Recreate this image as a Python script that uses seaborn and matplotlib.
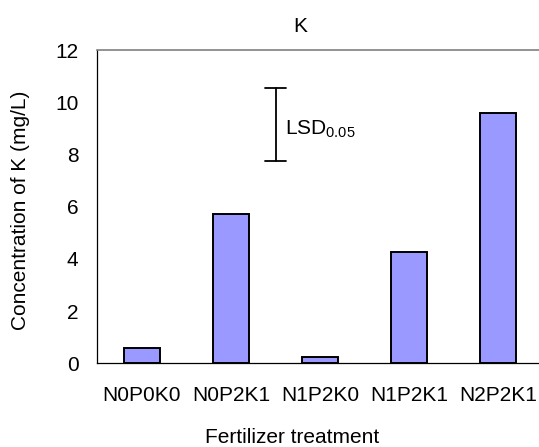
import numpy as np
import pandas as pd
import matplotlib
matplotlib.use("Agg")
import matplotlib.pyplot as plt
import seaborn as sns

# Data
categories = ["N0P0K0", "N0P2K1", "N1P2K0", "N1P2K1", "N2P2K1"]
values = [0.60, 5.72, 0.26, 4.25, 9.58]
lsd_low = 7.76
lsd_high = 10.54
lsd_x = 1.5
yticks = [0, 2, 4, 6, 8, 10, 12]

sns.set_theme(style="white")
plt.rcParams["font.family"] = ["Liberation Sans", "DejaVu Sans"]
plt.rcParams["mathtext.fontset"] = "custom"
plt.rcParams["mathtext.rm"] = "Liberation Sans"
plt.rcParams["mathtext.it"] = "Liberation Sans"
plt.rcParams["mathtext.bf"] = "Liberation Sans"

fs = 15
fig = plt.figure(figsize=(5.39, 4.47), dpi=100)
ax = fig.add_axes([97.3 / 539, 1 - 363.3 / 447, (542.8 - 97.3) / 539, (363.3 - 50) / 447])

df = pd.DataFrame({"treatment": categories, "value": values})
sns.barplot(data=df, x="treatment", y="value", color="#9999FF", saturation=1,
            width=0.4, edgecolor="black", linewidth=1.4, ax=ax)

ax.set_xlim(-0.5, len(categories) - 0.5)
ax.set_ylim(0, 12)
ax.set_yticks(yticks)
ax.set_yticklabels([str(v) for v in yticks], fontsize=fs, color="black")
ax.tick_params(axis="y", direction="in", length=5.5, width=0.9, color="black", pad=13.5)

ax.set_xticks(range(len(categories)))
ax.set_xticklabels(categories, fontsize=fs, color="black")
ax.set_xticks(np.arange(-0.5, len(categories), 1.0), minor=True)
ax.tick_params(axis="x", which="major", length=0, pad=16)
ax.tick_params(axis="x", which="minor", direction="out", length=5, width=0.9, color="black")

ax.set_xlabel("")
ax.set_ylabel("")

for s in ["left", "bottom"]:
    ax.spines[s].set_color("black")
    ax.spines[s].set_linewidth(0.9)
ax.spines["top"].set_color("#808080")
ax.spines["top"].set_linewidth(1.2)
ax.spines["right"].set_visible(False)

# LSD bar
ax.plot([lsd_x, lsd_x], [lsd_low, lsd_high], color="black", lw=1.3)
ax.plot([lsd_x - 0.115, lsd_x + 0.115], [lsd_high, lsd_high], color="black", lw=1.3)
ax.plot([lsd_x - 0.115, lsd_x + 0.115], [lsd_low, lsd_low], color="black", lw=1.3)
ax.text(lsd_x + 0.11, 8.77, r"LSD$_{\mathrm{0.05}}$", fontsize=fs,
        va="baseline", ha="left", color="black")

fig.text(300 / 539, 1 - 32.5 / 447, "K", fontsize=fs, ha="center", va="baseline", color="black")
fig.text(21 / 539, 1 - 210 / 447, "Concentration of K (mg/L)", fontsize=fs, rotation=90,
         ha="center", va="center", color="black")
fig.text(292 / 539, 1 - 443 / 447, "Fertilizer treatment", fontsize=fs, ha="center",
         va="baseline", color="black")

fig.savefig("out.png", dpi=100)
